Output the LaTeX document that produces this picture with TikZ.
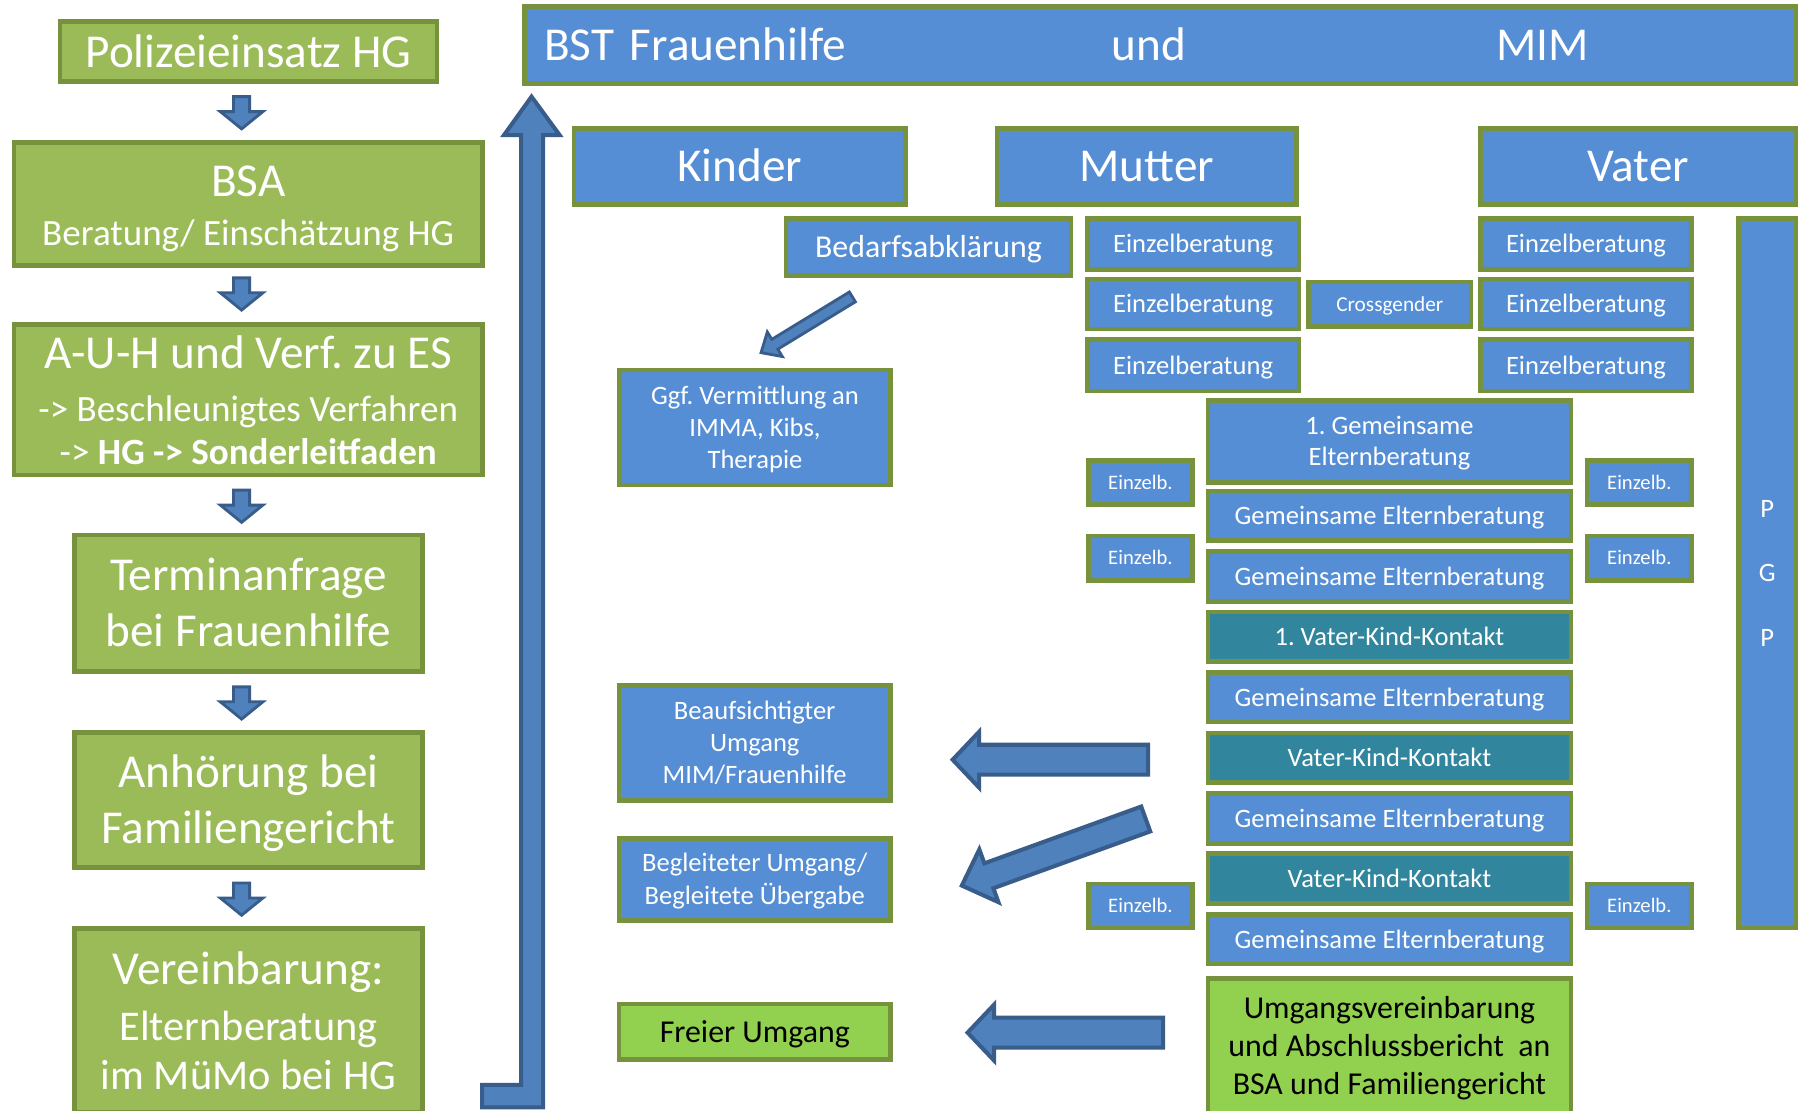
\documentclass[tikz,border=0pt]{standalone}
\usepackage{fontspec}
\setmainfont{Carlito}
\frenchspacing
\definecolor{boxblue}{HTML}{558ED5}
\definecolor{boxolive}{HTML}{76923C}
\definecolor{leftgreen}{HTML}{9BBB59}
\definecolor{boxteal}{HTML}{31859C}
\definecolor{lightgreen}{HTML}{92D050}
\definecolor{arrowfill}{HTML}{4F81BD}
\definecolor{arrowline}{HTML}{385D8A}
\newcommand\tops{\rule{0pt}{0.93em}}
\newcommand\bots{\rule[-0.27em]{0pt}{0.27em}}
\newcommand\T[1]{\tops#1\bots}
% name, style, x1, y1, x2, y2, text  (outer extents in px)
\newcommand\bx[7]{%
  \node[#2, minimum width={(#5-#3-4)*0.1mm}, minimum height={(#6-#4-4)*0.1mm}] (#1) at ({(#3+#5)/2},{(#4+#6)/2}) {#7};}
% style, tipx, tipy, angle, length, shaft, head, headlength
\newcommand\blockarrow[8]{%
  \begin{scope}[shift={(#2,#3)}, rotate=#4]
  \draw[barrow,#1] (0,0) -- (-#8,#7/2) -- (-#8,#6/2) -- (-#5,#6/2) -- (-#5,-#6/2) -- (-#8,-#6/2) -- (-#8,-#7/2) -- cycle;
  \end{scope}}
\tikzset{
  bxs/.style={draw=boxolive, line width=0.4mm, rectangle, inner sep=0pt, align=center, text=white},
  bluebox/.style={bxs, fill=boxblue},
  leftbox/.style={bxs, fill=leftgreen},
  tealbox/.style={bxs, fill=boxteal},
  lgbox/.style={bxs, fill=lightgreen, text=black},
  barrow/.style={fill=arrowfill, draw=arrowline, line width=0.8pt, line join=miter},
  fA/.style={font={\fontsize{11.67}{13.94}\selectfont}},
  fD/.style={font={\fontsize{7.88}{9.39}\selectfont}},
  fE/.style={font={\fontsize{6.57}{7.88}\selectfont}},
  fF/.style={font={\fontsize{5.26}{6.3}\selectfont}},
  fG/.style={font={\fontsize{5.1}{6.1}\selectfont}},
}
\begin{document}
\begin{tikzpicture}[x=0.1mm,y=-0.1mm]
\useasboundingbox (0,0) rectangle (1568,965);
\clip (0,0) rectangle (1568,965);
\fill[white] (0,0) rectangle (1568,965);

% ---------- left column ----------
\bx{pol}{leftbox,fA}{50}{16.5}{382}{73}{\T{Polizeieinsatz HG}}
\bx{bsa}{leftbox,font={\fontsize{9.16}{11.9}\selectfont}}{10}{121.7}{421.5}{232.9}{{\fontsize{11.67}{14}\selectfont\tops BSA}\\Beratung/ Einschätzung HG\bots}
\bx{auh}{leftbox,font={\fontsize{9.16}{10.81}\selectfont}}{10}{280}{421.5}{415}{{\fontsize{11.67}{14}\selectfont\tops A-U-H und Verf. zu ES}\\[2.14pt] -> Beschleunigtes Verfahren\\ -> \textbf{HG -> Sonderleitfaden}\bots}
\bx{term}{leftbox,fA}{63}{463}{369}{585.5}{\tops Terminanfrage\\bei Frauenhilfe\bots}
\bx{anh}{leftbox,fA}{63}{634.5}{369}{756}{\tops Anhörung bei\\Familiengericht\bots}
\bx{ver}{leftbox,font={\fontsize{10.47}{11.95}\selectfont}}{63}{805}{369}{969}{{\fontsize{11.67}{14}\selectfont\tops Vereinbarung:}\\[1.99pt] Elternberatung\\im MüMo bei HG\bots}

\blockarrow{line width=0.7pt}{210}{112}{270}{28}{14}{37}{15}
\blockarrow{line width=0.7pt}{210}{269.5}{270}{28}{14}{37}{15}
\blockarrow{line width=0.7pt}{210}{454}{270}{28}{14}{37}{15}
\blockarrow{line width=0.7pt}{210}{625}{270}{28}{14}{37}{15}
\blockarrow{line width=0.7pt}{210}{795.5}{270}{28}{14}{37}{15}

% ---------- big return arrow ----------
\draw[barrow, line width=1pt] (462,84) -- (486.5,117.5) -- (472,117.5) -- (472,962.5) -- (419,962.5) -- (419,943) -- (453,943) -- (453,117.5) -- (438,117.5) -- cycle;

% ---------- header ----------
\node[bluebox, fA, inner xsep={17*0.1mm}, text width={(1105-34)*0.1mm}, align=left,
      minimum height={(74.7-3.5-4)*0.1mm}] (bst) at ({(454+1563)/2},{(3.5+74.7)/2})
      {\tops BST Frauenhilfe\hspace{65.8pt}und\hspace{76.7pt}MIM\bots};
\bx{kinder}{bluebox,fA}{497}{109.5}{789}{179.6}{\T{Kinder}}
\bx{mutter}{bluebox,fA}{864.6}{109.5}{1129}{179.6}{\T{Mutter}}
\bx{vater}{bluebox,fA}{1285}{109.5}{1563}{179.6}{\T{Vater}}

% ---------- Kinder column ----------
\bx{bedarf}{bluebox,fD}{681}{187.7}{933}{241.7}{\T{Bedarfsabklärung}}
\bx{ggf}{bluebox,fE}{536.5}{319.6}{776}{423.5}{\tops Ggf. Vermittlung an\\IMMA, Kibs,\\Therapie\bots}
\bx{beauf}{bluebox,fE}{536}{594}{776}{697.7}{\tops Beaufsichtigter\\Umgang\\MIM/Frauenhilfe\bots}
\bx{begl}{bluebox,font={\fontsize{6.57}{8.1}\selectfont}}{536}{726.6}{776}{802}{\tops Begleiteter Umgang/\\Begleitete Übergabe\bots}
\bx{frei}{lgbox,fD}{536}{870.5}{776}{923}{\T{Freier Umgang}}

% ---------- Mutter / Vater single sessions ----------
\bx{em1}{bluebox,fE}{943}{188}{1131}{236}{\T{Einzelberatung}}
\bx{em2}{bluebox,fE}{943}{240.5}{1131}{288}{\T{Einzelberatung}}
\bx{em3}{bluebox,fE}{943}{293}{1131}{342}{\T{Einzelberatung}}
\bx{cross}{bluebox,fF}{1135.5}{243}{1280.5}{286}{\T{Crossgender}}
\bx{ev1}{bluebox,fE}{1285}{188}{1472}{236}{\T{Einzelberatung}}
\bx{ev2}{bluebox,fE}{1285}{240.5}{1472}{288}{\T{Einzelberatung}}
\bx{ev3}{bluebox,fE}{1285}{293}{1472}{342}{\T{Einzelberatung}}
\bx{pgp}{bluebox,font={\fontsize{6.57}{15.88}\selectfont}}{1509}{187.7}{1563}{808.6}{\tops P\\G\\P\bots}

% ---------- joint sessions ----------
\bx{g0}{bluebox,font={\fontsize{6.57}{7.75}\selectfont}}{1048}{346}{1367.4}{421.5}{\tops 1. Gemeinsame\\Elternberatung\bots}
\bx{g1}{bluebox,fE}{1048}{424.6}{1367.4}{472}{\T{Gemeinsame Elternberatung}}
\bx{g2}{bluebox,fE}{1048}{477.2}{1367.4}{524.6}{\T{Gemeinsame Elternberatung}}
\bx{vk1}{tealbox,fE}{1048}{529.8}{1367.4}{577}{\T{1. Vater-Kind-Kontakt}}
\bx{g3}{bluebox,fE}{1048}{582.4}{1367.4}{629.7}{\T{Gemeinsame Elternberatung}}
\bx{vk2}{tealbox,fE}{1048}{635}{1367.4}{682.3}{\T{Vater-Kind-Kontakt}}
\bx{g4}{bluebox,fE}{1048}{687.6}{1367.4}{735}{\T{Gemeinsame Elternberatung}}
\bx{vk3}{tealbox,fE}{1048}{740}{1367.4}{787.5}{\T{Vater-Kind-Kontakt}}
\bx{g5}{bluebox,fE}{1048}{792.7}{1367.4}{840}{\T{Gemeinsame Elternberatung}}
\bx{umg}{lgbox,fD}{1048}{848.3}{1367.4}{970.3}{\tops Umgangsvereinbarung\\und Abschlussbericht\ \ an\\BSA und Familiengericht\bots}

\bx{el1}{bluebox,fG}{943.9}{398.2}{1038.5}{440.3}{\T{Einzelb.}}
\bx{el2}{bluebox,fG}{943.9}{463.8}{1038.5}{506.3}{\T{Einzelb.}}
\bx{el3}{bluebox,fG}{943.9}{766.5}{1038.5}{808.6}{\T{Einzelb.}}
\bx{er1}{bluebox,fG}{1377.4}{398.2}{1472.4}{440.3}{\T{Einzelb.}}
\bx{er2}{bluebox,fG}{1377.4}{463.8}{1472.4}{506.3}{\T{Einzelb.}}
\bx{er3}{bluebox,fG}{1377.4}{766.5}{1472.4}{808.6}{\T{Einzelb.}}

% ---------- block arrows in the right part ----------
\blockarrow{line width=0.7pt}{661.5}{306.5}{211.4}{93}{10}{25}{14}
\blockarrow{line width=1pt}{828}{660.3}{180}{170}{26}{48.5}{23}
\blockarrow{line width=1pt}{836}{769.7}{199.9}{170}{23}{48.8}{25}
\blockarrow{line width=1pt}{841}{897.5}{180}{170}{26}{48.5}{23}
\end{tikzpicture}
\end{document}
